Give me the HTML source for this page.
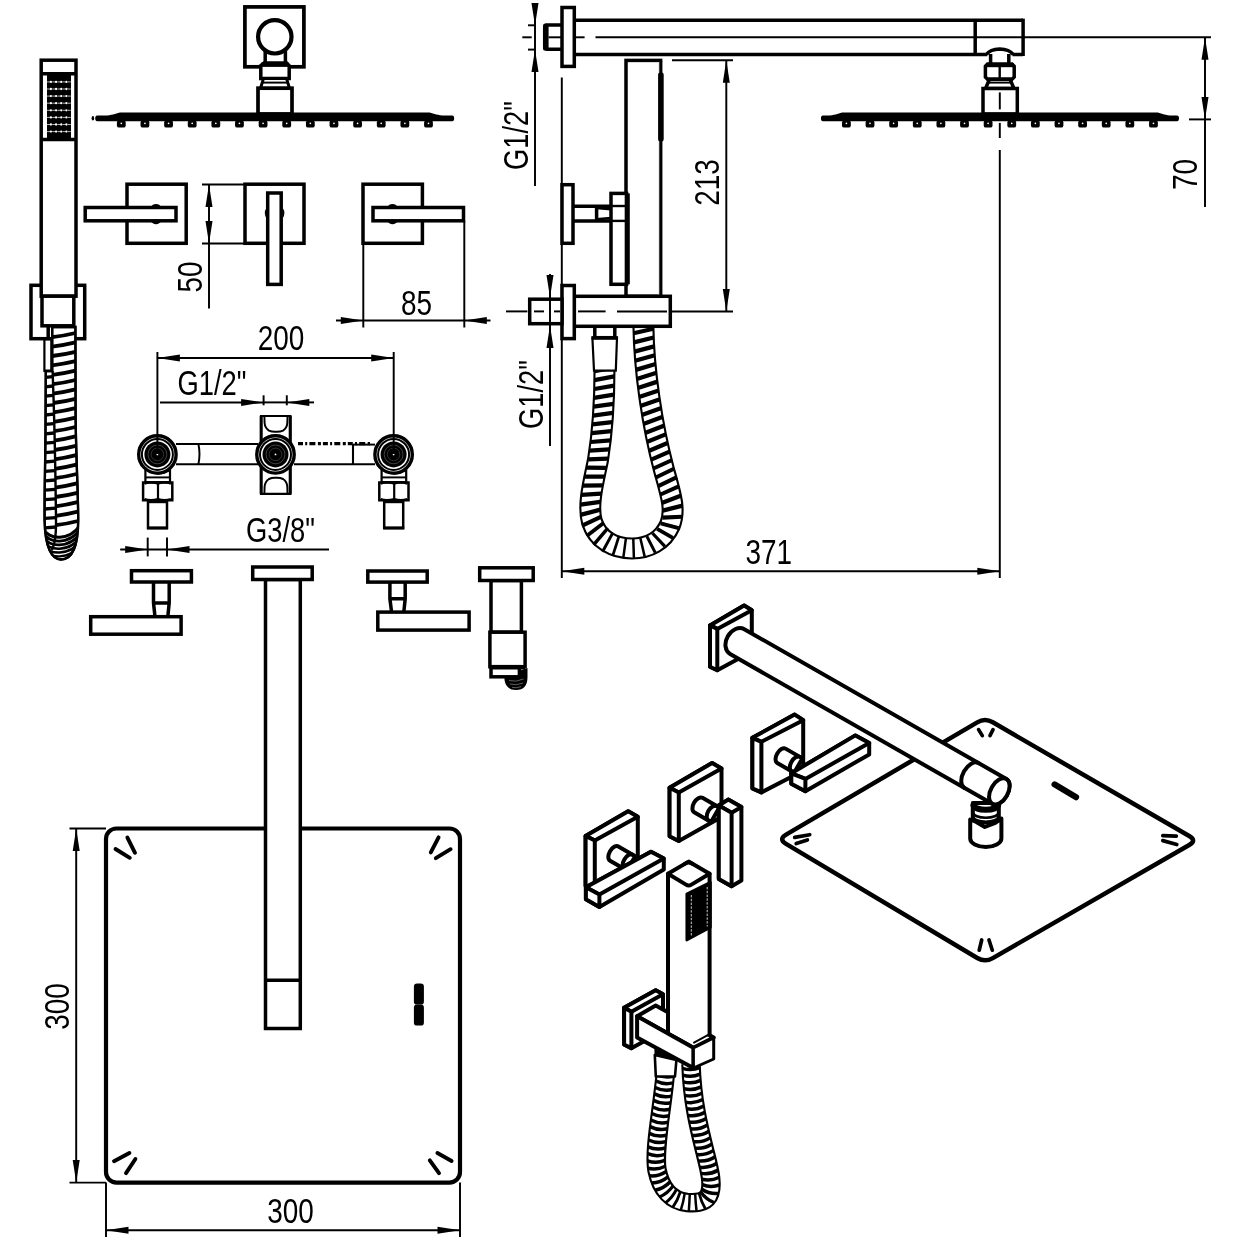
<!DOCTYPE html>
<html lang="en">
<head>
<meta charset="utf-8">
<title>Shower set technical drawing</title>
<style>
html,body{margin:0;padding:0;background:#fff}
body{width:1242px;height:1242px;overflow:hidden}
svg{display:block;will-change:transform}
.k{fill:none;stroke:#000;stroke-width:3.5;stroke-linejoin:miter}
.kw{fill:#fff;stroke:#000;stroke-width:3.5;stroke-linejoin:miter}
.kr{fill:none;stroke:#000;stroke-width:4;stroke-linejoin:round;stroke-linecap:round}
.kwr{fill:#fff;stroke:#000;stroke-width:4;stroke-linejoin:round;stroke-linecap:round}
.m{fill:none;stroke:#000;stroke-width:2.4}
.mw{fill:#fff;stroke:#000;stroke-width:2.4}
.t{fill:none;stroke:#000;stroke-width:1.95}
.tw{fill:#fff;stroke:#000;stroke-width:1.95}
.b{fill:#000;stroke:none}
.w{fill:#fff;stroke:none}
.a{fill:#000;stroke:none}
text{font-family:"Liberation Sans","DejaVu Sans",sans-serif;fill:#000}
</style>
</head>
<body>
<svg width="1242" height="1242" viewBox="0 0 1242 1242">
<rect class="w" x="0" y="0" width="1242" height="1242"/>
<!-- front view: hand shower -->
<rect class="kw" x="31" y="285.3" width="53.7" height="53.4"/>
<line class="k" x1="48.2" y1="326" x2="48.2" y2="339"/>
<rect class="tw" x="44.4" y="339.5" width="6.9" height="31.5" style="stroke-width:2.2"/>
<path class="tw" d="M45.8 371 L45.5 430 C45.2 470 44.4 490 44.6 520 C45 548 52 559.5 61 559.5 C71 559.5 78.2 548 78.2 520 C78.2 490 75.6 450 75.6 410 L75.4 327 L52.2 327 L52.2 371 Z" style="stroke-width:2.3"/>
<path class="t" d="M52.6 371 C54.5 420 55.5 470 56 520 C56.2 535 55 545 51.5 550" style="stroke-width:2.4"/>
<path class="t" style="stroke-width:3.8" d="M52.2 337.2 Q63.85 335.8 75.5 333"/>
<path class="t" style="stroke-width:3.8" d="M52.2 346.6 Q63.85 345.2 75.5 342.4"/>
<path class="t" style="stroke-width:3.8" d="M52.2 356 Q63.85 354.6 75.5 351.8"/>
<path class="t" style="stroke-width:3.8" d="M52.2 365.4 Q63.85 364 75.5 361.2"/>
<path class="t" style="stroke-width:3.8" d="M52.64 374.8 Q64.07 373.4 75.5 370.6"/>
<path class="t" style="stroke-width:3.3" d="M45.4 377.4 L52.64 376.6"/>
<path class="t" style="stroke-width:3.8" d="M52.84 384.2 Q64.17 382.8 75.5 380"/>
<path class="t" style="stroke-width:3.3" d="M45.4 386.8 L52.84 386"/>
<path class="t" style="stroke-width:3.8" d="M53.05 393.6 Q64.27 392.2 75.5 389.4"/>
<path class="t" style="stroke-width:3.3" d="M45.4 396.2 L53.05 395.4"/>
<path class="t" style="stroke-width:3.8" d="M53.26 403 Q64.38 401.6 75.5 398.8"/>
<path class="t" style="stroke-width:3.3" d="M45.4 405.6 L53.26 404.8"/>
<path class="t" style="stroke-width:3.8" d="M53.46 412.4 Q64.48 411 75.5 408.2"/>
<path class="t" style="stroke-width:3.3" d="M45.4 415 L53.46 414.2"/>
<path class="t" style="stroke-width:3.8" d="M53.67 421.8 Q64.58 420.4 75.5 417.6"/>
<path class="t" style="stroke-width:3.3" d="M45.4 424.4 L53.67 423.6"/>
<path class="t" style="stroke-width:3.8" d="M53.88 431.2 Q64.69 429.8 75.5 427"/>
<path class="t" style="stroke-width:3.3" d="M45.4 433.8 L53.88 433"/>
<path class="t" style="stroke-width:3.8" d="M54.08 440.6 Q64.79 439.2 75.5 436.4"/>
<path class="t" style="stroke-width:3.3" d="M45.33 443.2 L54.08 442.4"/>
<path class="t" style="stroke-width:3.8" d="M54.29 450 Q65.02 448.6 75.75 445.8"/>
<path class="t" style="stroke-width:3.3" d="M45.26 452.6 L54.29 451.8"/>
<path class="t" style="stroke-width:3.8" d="M54.5 459.4 Q65.27 458 76.05 455.2"/>
<path class="t" style="stroke-width:3.3" d="M45.18 462 L54.5 461.2"/>
<path class="t" style="stroke-width:3.8" d="M54.7 468.8 Q65.53 467.4 76.35 464.6"/>
<path class="t" style="stroke-width:3.3" d="M45.11 471.4 L54.7 470.6"/>
<path class="t" style="stroke-width:3.8" d="M54.91 478.2 Q65.78 476.8 76.65 474"/>
<path class="t" style="stroke-width:3.3" d="M45.03 480.8 L54.91 480"/>
<path class="t" style="stroke-width:3.8" d="M55.12 487.6 Q66.03 486.2 76.95 483.4"/>
<path class="t" style="stroke-width:3.3" d="M44.96 490.2 L55.12 489.4"/>
<path class="t" style="stroke-width:3.8" d="M55.32 497 Q66.29 495.6 77.25 492.8"/>
<path class="t" style="stroke-width:3.3" d="M44.88 499.6 L55.32 498.8"/>
<path class="t" style="stroke-width:3.8" d="M55.53 506.4 Q66.54 505 77.55 502.2"/>
<path class="t" style="stroke-width:3.3" d="M44.81 509 L55.53 508.2"/>
<path class="t" style="stroke-width:3.8" d="M55.74 515.8 Q66.8 514.4 77.86 511.6"/>
<path class="t" style="stroke-width:3.3" d="M44.73 518.4 L55.74 517.6"/>
<path class="t" style="stroke-width:3.8" d="M55.94 525.2 Q66.97 523.8 78 521"/>
<path class="t" style="stroke-width:3.3" d="M44.66 527.8 L55.94 527"/>
<clipPath id="lh"><path d="M45.8 371 L45.5 430 C45.2 470 44.4 490 44.6 520 C45 548 52 559.5 61 559.5 C71 559.5 78.2 548 78.2 520 C78.2 490 75.6 450 75.6 410 L75.4 327 L52.2 327 L52.2 371 Z"/></clipPath>
<g clip-path="url(#lh)">
<path class="t" style="stroke-width:3" d="M43 528 C48 540.5 70 541.5 81 524"/>
<path class="t" style="stroke-width:2.88" d="M43 532.2 C48 544.2 70 545.2 81 528.2"/>
<path class="t" style="stroke-width:2.76" d="M43 536.4 C48 547.9 70 548.9 81 532.4"/>
<path class="t" style="stroke-width:2.64" d="M43 540.6 C48 551.6 70 552.6 81 536.6"/>
<path class="t" style="stroke-width:2.52" d="M43 544.8 C48 555.3 70 556.3 81 540.8"/>
<path class="t" style="stroke-width:2.4" d="M43 549 C48 559 70 560 81 545"/>
<path class="t" style="stroke-width:2.28" d="M43 553.2 C48 562.7 70 563.7 81 549.2"/>
</g>
<path class="t" d="M45.8 371 L45.5 430 C45.2 470 44.4 490 44.6 520 C45 548 52 559.5 61 559.5 C71 559.5 78.2 548 78.2 520 C78.2 490 75.6 450 75.6 410 L75.4 327 L52.2 327 L52.2 371 Z" style="stroke-width:2.3"/>
<rect class="kw" x="41.2" y="60.2" width="34.8" height="236"/>
<line class="k" x1="41.2" y1="73.8" x2="76" y2="73.8"/>
<line class="k" x1="41.2" y1="139.4" x2="76" y2="139.4"/>
<rect class="b" x="47" y="73.8" width="24" height="65.6"/>
<line class="t" x1="47" y1="81.9" x2="71" y2="81.9" style="stroke:#fff;stroke-width:0.7;stroke-dasharray:3 2.2"/>
<circle class="w" cx="50.9" cy="81.9" r="1.15"/>
<circle class="w" cx="56.07" cy="81.9" r="1.15"/>
<circle class="w" cx="61.24" cy="81.9" r="1.15"/>
<circle class="w" cx="66.41" cy="81.9" r="1.15"/>
<line class="t" x1="47" y1="89" x2="71" y2="89" style="stroke:#fff;stroke-width:0.7;stroke-dasharray:3 2.2"/>
<circle class="w" cx="50.9" cy="89" r="1.15"/>
<circle class="w" cx="56.07" cy="89" r="1.15"/>
<circle class="w" cx="61.24" cy="89" r="1.15"/>
<circle class="w" cx="66.41" cy="89" r="1.15"/>
<line class="t" x1="47" y1="96.1" x2="71" y2="96.1" style="stroke:#fff;stroke-width:0.7;stroke-dasharray:3 2.2"/>
<circle class="w" cx="50.9" cy="96.1" r="1.15"/>
<circle class="w" cx="56.07" cy="96.1" r="1.15"/>
<circle class="w" cx="61.24" cy="96.1" r="1.15"/>
<circle class="w" cx="66.41" cy="96.1" r="1.15"/>
<line class="t" x1="47" y1="103.2" x2="71" y2="103.2" style="stroke:#fff;stroke-width:0.7;stroke-dasharray:3 2.2"/>
<circle class="w" cx="50.9" cy="103.2" r="1.15"/>
<circle class="w" cx="56.07" cy="103.2" r="1.15"/>
<circle class="w" cx="61.24" cy="103.2" r="1.15"/>
<circle class="w" cx="66.41" cy="103.2" r="1.15"/>
<line class="t" x1="47" y1="110.3" x2="71" y2="110.3" style="stroke:#fff;stroke-width:0.7;stroke-dasharray:3 2.2"/>
<circle class="w" cx="50.9" cy="110.3" r="1.15"/>
<circle class="w" cx="56.07" cy="110.3" r="1.15"/>
<circle class="w" cx="61.24" cy="110.3" r="1.15"/>
<circle class="w" cx="66.41" cy="110.3" r="1.15"/>
<line class="t" x1="47" y1="117.4" x2="71" y2="117.4" style="stroke:#fff;stroke-width:0.7;stroke-dasharray:3 2.2"/>
<circle class="w" cx="50.9" cy="117.4" r="1.15"/>
<circle class="w" cx="56.07" cy="117.4" r="1.15"/>
<circle class="w" cx="61.24" cy="117.4" r="1.15"/>
<circle class="w" cx="66.41" cy="117.4" r="1.15"/>
<line class="t" x1="47" y1="124.5" x2="71" y2="124.5" style="stroke:#fff;stroke-width:0.7;stroke-dasharray:3 2.2"/>
<circle class="w" cx="50.9" cy="124.5" r="1.15"/>
<circle class="w" cx="56.07" cy="124.5" r="1.15"/>
<circle class="w" cx="61.24" cy="124.5" r="1.15"/>
<circle class="w" cx="66.41" cy="124.5" r="1.15"/>
<line class="t" x1="47" y1="131.6" x2="71" y2="131.6" style="stroke:#fff;stroke-width:0.7;stroke-dasharray:3 2.2"/>
<circle class="w" cx="50.9" cy="131.6" r="1.15"/>
<circle class="w" cx="56.07" cy="131.6" r="1.15"/>
<circle class="w" cx="61.24" cy="131.6" r="1.15"/>
<circle class="w" cx="66.41" cy="131.6" r="1.15"/>
<rect class="kw" x="42" y="296.2" width="31.8" height="29.6"/>
<!-- front view: shower head -->
<rect class="k" x="244.9" y="6.9" width="59" height="59.9" style="stroke-width:3.7"/>
<path class="k" d="M265.2 50 L265.2 63 M285.4 50 L285.4 63"/>
<circle class="kw" cx="274.8" cy="36.8" r="16.7" style="stroke-width:4.2"/>
<path class="kw" d="M264 63 L286.6 63 L289.2 65.6 L289.2 78.4 L260.8 78.4 L260.8 65.6 Z"/>
<line class="k" x1="261.6" y1="64.6" x2="288.4" y2="64.6" style="stroke-width:4.6"/>
<path class="kw" d="M263.5 78.4 L286.5 78.4 L289.5 88.2 L260.5 88.2 Z" style="stroke-width:3"/>
<line class="t" x1="262.5" y1="82.6" x2="287.5" y2="82.6"/>
<rect class="kw" x="258" y="88.2" width="34" height="25.8" style="stroke-width:3.7"/>
<path class="b" d="M97.2 115.4 L107.2 115.4 C113.2 115.4 116.7 112.6 121.7 112.6 L427.7 112.6 C432.7 112.6 436.2 115.4 442.2 115.4 L452.2 115.4 Q454.2 115.4 454.2 118.3 Q454.2 121.2 452.2 121.2 L97.2 121.2 Q95.2 121.2 95.2 118.3 Q95.2 115.4 97.2 115.4 Z"/>
<ellipse class="b" cx="92.9" cy="118.3" rx="1.3" ry="2.3"/>
<rect class="b" x="116.9" y="120.2" width="8.8" height="7.4" rx="2.2" ry="2.2"/>
<circle class="w" cx="121.3" cy="123.3" r="0.85"/>
<rect class="b" x="140.53" y="120.2" width="8.8" height="7.4" rx="2.2" ry="2.2"/>
<circle class="w" cx="144.93" cy="123.3" r="0.85"/>
<rect class="b" x="164.16" y="120.2" width="8.8" height="7.4" rx="2.2" ry="2.2"/>
<circle class="w" cx="168.56" cy="123.3" r="0.85"/>
<rect class="b" x="187.79" y="120.2" width="8.8" height="7.4" rx="2.2" ry="2.2"/>
<circle class="w" cx="192.19" cy="123.3" r="0.85"/>
<rect class="b" x="211.42" y="120.2" width="8.8" height="7.4" rx="2.2" ry="2.2"/>
<circle class="w" cx="215.82" cy="123.3" r="0.85"/>
<rect class="b" x="235.05" y="120.2" width="8.8" height="7.4" rx="2.2" ry="2.2"/>
<circle class="w" cx="239.45" cy="123.3" r="0.85"/>
<rect class="b" x="258.68" y="120.2" width="8.8" height="7.4" rx="2.2" ry="2.2"/>
<circle class="w" cx="263.08" cy="123.3" r="0.85"/>
<rect class="b" x="282.31" y="120.2" width="8.8" height="7.4" rx="2.2" ry="2.2"/>
<circle class="w" cx="286.71" cy="123.3" r="0.85"/>
<rect class="b" x="305.94" y="120.2" width="8.8" height="7.4" rx="2.2" ry="2.2"/>
<circle class="w" cx="310.34" cy="123.3" r="0.85"/>
<rect class="b" x="329.57" y="120.2" width="8.8" height="7.4" rx="2.2" ry="2.2"/>
<circle class="w" cx="333.97" cy="123.3" r="0.85"/>
<rect class="b" x="353.2" y="120.2" width="8.8" height="7.4" rx="2.2" ry="2.2"/>
<circle class="w" cx="357.6" cy="123.3" r="0.85"/>
<rect class="b" x="376.83" y="120.2" width="8.8" height="7.4" rx="2.2" ry="2.2"/>
<circle class="w" cx="381.23" cy="123.3" r="0.85"/>
<rect class="b" x="400.46" y="120.2" width="8.8" height="7.4" rx="2.2" ry="2.2"/>
<circle class="w" cx="404.86" cy="123.3" r="0.85"/>
<rect class="b" x="424.09" y="120.2" width="8.8" height="7.4" rx="2.2" ry="2.2"/>
<circle class="w" cx="428.49" cy="123.3" r="0.85"/>
<!-- handles -->
<rect class="k" x="127" y="184.2" width="59.2" height="59.1"/>
<rect class="kw" x="85.2" y="207.5" width="90.8" height="13.3"/>
<path class="b" d="M150.5 207.5 Q152.5 204.1 156 204.1 Q159.5 204.1 161.5 207.5 Z"/>
<path class="b" d="M150.5 220.8 Q152.5 224.2 156 224.2 Q159.5 224.2 161.5 220.8 Z"/>
<rect class="k" x="245" y="184.2" width="59" height="59.1"/>
<rect class="kw" x="267.7" y="193" width="13.5" height="91.4"/>
<path class="b" d="M266.4 208 Q263.2 213 266.4 218 Z"/>
<path class="b" d="M282.8 208 Q286 213 282.8 218 Z"/>
<rect class="k" x="363" y="184.2" width="59.4" height="59.1"/>
<rect class="kw" x="373" y="207.5" width="90.5" height="13.3"/>
<path class="b" d="M387 207.5 Q389 204.1 392.5 204.1 Q396 204.1 398 207.5 Z"/>
<path class="b" d="M387 220.8 Q389 224.2 392.5 224.2 Q396 224.2 398 220.8 Z"/>
<!-- dimension 50 -->
<line class="t" x1="202" y1="184.4" x2="245" y2="184.4"/>
<line class="t" x1="202" y1="243.5" x2="245" y2="243.5"/>
<line class="t" x1="209" y1="184.4" x2="209" y2="308.5"/>
<polygon class="a" points="209,184.4 212.5,206.9 205.5,206.9"/>
<polygon class="a" points="209,243.5 205.5,221 212.5,221"/>
<text transform="translate(201.9 277) rotate(-90) scale(0.776 1)" text-anchor="middle" font-size="36">50</text>
<!-- dimension 85 -->
<line class="t" x1="363.3" y1="243.3" x2="363.3" y2="327.5"/>
<line class="t" x1="464.3" y1="220.8" x2="464.3" y2="327.5"/>
<line class="t" x1="336" y1="320.5" x2="490.5" y2="320.5"/>
<polygon class="a" points="363.3,320.5 340.8,324 340.8,317"/>
<polygon class="a" points="464.3,320.5 486.8,317 486.8,324"/>
<text transform="translate(416.5 315) scale(0.776 1)" text-anchor="middle" font-size="36">85</text>
<!-- side view -->
<line class="t" x1="561.8" y1="77.5" x2="561.8" y2="578"/>
<line class="k" x1="574.3" y1="20.3" x2="1023.1" y2="20.3"/>
<line class="k" x1="574.3" y1="54.4" x2="1023.1" y2="54.4"/>
<line class="k" x1="975.2" y1="20.3" x2="975.2" y2="54.4"/>
<line class="k" x1="1023.1" y1="18.7" x2="1023.1" y2="56"/>
<path class="kw" d="M562 24.9 L548 24.9 Q544.7 24.9 544.7 28 L544.7 46.2 Q544.7 49.3 548 49.3 L562 49.3"/>
<rect class="b" x="543" y="23.6" width="5.6" height="27" rx="2.2" ry="2.2"/>
<line class="t" x1="522.3" y1="37.3" x2="531.7" y2="37.3"/>
<line class="t" x1="548.6" y1="37.3" x2="561" y2="37.3"/>
<line class="t" x1="575" y1="37.3" x2="584.6" y2="37.3"/>
<line class="t" x1="595.5" y1="37.3" x2="1211" y2="37.3"/>
<line class="t" x1="528" y1="25.3" x2="534" y2="25.3"/>
<line class="t" x1="528" y1="49.6" x2="534" y2="49.6"/>
<rect class="kw" x="562" y="7.5" width="12.3" height="58.9"/>
<line class="t" x1="535" y1="4" x2="535" y2="186"/>
<polygon class="a" points="535,25.6 531.5,3.1 538.5,3.1"/>
<polygon class="a" points="535,49.4 538.5,71.9 531.5,71.9"/>
<text transform="translate(528 135.5) rotate(-90) scale(0.764 1)" text-anchor="middle" font-size="35.8">G1/2"</text>
<path class="w" d="M987.2 57 L987.2 54.6 Q990 49.4 999.7 49.1 Q1009.5 49.4 1012.4 54.6 L1012.4 57 Z"/>
<path class="k" d="M986.4 54.6 Q990 49.4 999.7 49.1 Q1009.5 49.4 1013.2 54.6"/>
<rect class="w" x="990.6" y="54.6" width="18.2" height="9.4"/>
<path class="k" d="M990.6 54 L990.6 64 M1008.8 54 L1008.8 64"/>
<path class="kw" d="M987.5 64 L1012 64 L1014.2 66.2 L1014.2 77 L1012 79.2 L987.5 79.2 L985.4 77 L985.4 66.2 Z"/>
<line class="k" x1="986" y1="65.2" x2="1013.6" y2="65.2" style="stroke-width:4"/>
<line class="m" x1="999.7" y1="66" x2="999.7" y2="78"/>
<path class="kw" d="M989.5 79.2 L1010 79.2 L1014 88.5 L985.5 88.5 Z"/>
<line class="t" x1="988.5" y1="82.6" x2="1011" y2="82.6"/>
<rect class="kw" x="983" y="88.5" width="34.3" height="25.5"/>
<path class="b" d="M822.9 115.4 L829.9 115.4 C835.9 115.4 838.9 112.6 843.9 112.6 L1156 112.6 C1161 112.6 1164 115.4 1170 115.4 L1177 115.4 Q1179 115.4 1179 118.3 Q1179 121.2 1177 121.2 L822.9 121.2 Q820.9 121.2 820.9 118.3 Q820.9 115.4 822.9 115.4 Z"/>
<rect class="b" x="842" y="120.2" width="8.8" height="7.4" rx="2.2" ry="2.2"/>
<circle class="w" cx="846.4" cy="123.3" r="0.85"/>
<rect class="b" x="865.62" y="120.2" width="8.8" height="7.4" rx="2.2" ry="2.2"/>
<circle class="w" cx="870.02" cy="123.3" r="0.85"/>
<rect class="b" x="889.24" y="120.2" width="8.8" height="7.4" rx="2.2" ry="2.2"/>
<circle class="w" cx="893.64" cy="123.3" r="0.85"/>
<rect class="b" x="912.86" y="120.2" width="8.8" height="7.4" rx="2.2" ry="2.2"/>
<circle class="w" cx="917.26" cy="123.3" r="0.85"/>
<rect class="b" x="936.48" y="120.2" width="8.8" height="7.4" rx="2.2" ry="2.2"/>
<circle class="w" cx="940.88" cy="123.3" r="0.85"/>
<rect class="b" x="960.1" y="120.2" width="8.8" height="7.4" rx="2.2" ry="2.2"/>
<circle class="w" cx="964.5" cy="123.3" r="0.85"/>
<rect class="b" x="983.72" y="120.2" width="8.8" height="7.4" rx="2.2" ry="2.2"/>
<circle class="w" cx="988.12" cy="123.3" r="0.85"/>
<rect class="b" x="1007.34" y="120.2" width="8.8" height="7.4" rx="2.2" ry="2.2"/>
<circle class="w" cx="1011.74" cy="123.3" r="0.85"/>
<rect class="b" x="1030.96" y="120.2" width="8.8" height="7.4" rx="2.2" ry="2.2"/>
<circle class="w" cx="1035.36" cy="123.3" r="0.85"/>
<rect class="b" x="1054.58" y="120.2" width="8.8" height="7.4" rx="2.2" ry="2.2"/>
<circle class="w" cx="1058.98" cy="123.3" r="0.85"/>
<rect class="b" x="1078.2" y="120.2" width="8.8" height="7.4" rx="2.2" ry="2.2"/>
<circle class="w" cx="1082.6" cy="123.3" r="0.85"/>
<rect class="b" x="1101.82" y="120.2" width="8.8" height="7.4" rx="2.2" ry="2.2"/>
<circle class="w" cx="1106.22" cy="123.3" r="0.85"/>
<rect class="b" x="1125.44" y="120.2" width="8.8" height="7.4" rx="2.2" ry="2.2"/>
<circle class="w" cx="1129.84" cy="123.3" r="0.85"/>
<rect class="b" x="1149.06" y="120.2" width="8.8" height="7.4" rx="2.2" ry="2.2"/>
<circle class="w" cx="1153.46" cy="123.3" r="0.85"/>
<line class="t" x1="999.8" y1="92.4" x2="999.8" y2="109.4"/>
<line class="t" x1="999.8" y1="122.9" x2="999.8" y2="138"/>
<line class="t" x1="999.8" y1="150" x2="999.8" y2="578"/>
<line class="t" x1="1189" y1="119.4" x2="1211" y2="119.4"/>
<line class="t" x1="1205" y1="37.3" x2="1205" y2="207"/>
<polygon class="a" points="1205,37.3 1208.5,59.8 1201.5,59.8"/>
<polygon class="a" points="1205,119.4 1201.5,96.9 1208.5,96.9"/>
<text transform="translate(1197.2 174.5) rotate(-90) scale(0.776 1)" text-anchor="middle" font-size="36">70</text>
<path d="M643.4 326 C644 370 652 425 664 470 C671 495 676 510 670 525 C663 541 648 548.5 632 548.5 C614 548.5 598 540 592 522 C587 505 594 480 598 460 C602 435 604.5 400 604.5 369" fill="none" stroke="#000" stroke-width="22"/>
<path d="M643.4 326 C644 370 652 425 664 470 C671 495 676 510 670 525 C663 541 648 548.5 632 548.5 C614 548.5 598 540 592 522 C587 505 594 480 598 460 C602 435 604.5 400 604.5 369" fill="none" stroke="#fff" stroke-width="17.8"/>
<path d="M640.34 538.09 L644.69 556.64 M633.28 538.59 L633.91 558.36 M623.27 558.13 L625.98 537.87" fill="none" stroke="#000" stroke-width="2.5"/>
<path d="M612.67 556.01 L619.08 535.89" fill="none" stroke="#000" stroke-width="2.75"/>
<path d="M646.85 536.3 L655.21 552.69 M602.53 551.67 L612.94 532.63" fill="none" stroke="#000" stroke-width="3"/>
<path d="M652.52 533.24 L664.86 546.39" fill="none" stroke="#000" stroke-width="3.25"/>
<path d="M593.59 544.91 L607.85 528.18" fill="none" stroke="#000" stroke-width="3.5"/>
<path d="M657.16 528.9 L672.87 537.97 M586.69 536.1 L603.92 522.68" fill="none" stroke="#000" stroke-width="3.75"/>
<path d="M652.9 468.78 L672.18 460.01 M655.29 477.7 L674.44 468.47 M657.71 486.33 L676.89 477.17 M659.96 494.78 L679.27 486.11 M660.63 523.39 L678.7 528.12 M582.15 525.63 L601.37 516.65" fill="none" stroke="#000" stroke-width="4"/>
<path d="M633.55 333.25 L653.45 328.75 M633.88 342.43 L653.76 337.55 M634.38 351.6 L654.24 346.36 M635.04 360.73 L654.87 355.18 M635.84 369.85 L655.65 363.99 M636.77 378.94 L656.55 372.81 M637.83 388.01 L657.58 381.61 M639.02 397.07 L658.73 390.41 M640.33 406.1 L660 399.19 M641.75 415.12 L661.39 407.95 M643.3 424.11 L662.89 416.7 M644.96 433.09 L664.5 425.42 M646.75 442.04 L666.24 434.12 M648.66 450.98 L668.09 442.79 M650.71 459.89 L670.07 451.42 M661.74 502.97 L681.33 495.51 M662.68 510.65 L682.55 505.68 M662.35 517.53 L682 516.75 M580.46 514.85 L600.32 509.67 M580.48 504.66 L600.35 501.87 M581.45 494.95 L601.17 493.68 M582.96 485.6 L602.53 485.26 M584.75 476.51 L604.23 476.69 M586.64 467.66 L606.1 467.94 M588.33 459.4 L607.99 458.55 M589.58 450.74 L609.31 449.4 M590.64 442 L610.42 440.27 M591.56 433.22 L611.37 431.15 M592.34 424.4 L612.17 422.04 M593 415.56 L612.85 412.93 M593.54 406.71 L613.41 403.82 M593.97 397.84 L613.85 394.7 M594.28 388.98 L614.17 385.58 M594.48 380.12 L614.38 376.44 M594.55 371.26 L614.45 367.3" fill="none" stroke="#000" stroke-width="4.25"/>
<rect class="kw" x="594.8" y="326" width="20" height="11.7"/>
<path class="mw" d="M592.4 337.7 L617 337.7 L615.8 370.6 L594 370.6 Z" style="stroke-width:2.2"/>
<line class="k" x1="591.6" y1="338" x2="617.8" y2="338" style="stroke-width:3.6"/>
<rect class="kw" x="626" y="60.4" width="34.6" height="235.9"/>
<line class="k" x1="660.6" y1="62" x2="660.6" y2="295" style="stroke:#fff;stroke-width:4.2"/>
<line class="k" x1="660.8" y1="61" x2="660.8" y2="296" style="stroke-width:3.1"/>
<line class="k" x1="660.9" y1="75" x2="660.9" y2="139" style="stroke-width:5.6;stroke-linecap:round"/>
<rect class="kw" x="562" y="184.7" width="11" height="58.6"/>
<line class="k" x1="573" y1="206.2" x2="611" y2="206.2"/>
<line class="k" x1="573" y1="220.9" x2="611" y2="220.9"/>
<path class="k" d="M596.6 206.2 L596.6 220.9"/>
<path class="m" d="M596.6 208 L611 209.3 M596.6 219.2 L611 218"/>
<rect class="kw" x="611" y="193.4" width="15.6" height="90.9"/>
<line class="m" x1="611" y1="206" x2="626" y2="206"/>
<line class="m" x1="611" y1="220.9" x2="626" y2="220.9"/>
<line class="k" x1="627.3" y1="193.4" x2="627.3" y2="284.3" style="stroke-width:5"/>
<rect class="kw" x="574.3" y="296.3" width="96" height="30"/>
<rect class="kw" x="562" y="285.5" width="12.3" height="53.1"/>
<rect class="kw" x="529.7" y="299.2" width="32.3" height="24.5"/>
<line class="t" x1="506" y1="311.4" x2="527.4" y2="311.4"/>
<line class="t" x1="534" y1="311.4" x2="544" y2="311.4"/>
<line class="t" x1="554" y1="311.4" x2="560" y2="311.4"/>
<line class="t" x1="578" y1="311.4" x2="605.6" y2="311.4"/>
<line class="t" x1="617" y1="311.4" x2="667" y2="311.4"/>
<line class="t" x1="672" y1="311.4" x2="733" y2="311.4"/>
<line class="t" x1="550" y1="274" x2="550" y2="446"/>
<polygon class="a" points="550,297.6 546.5,275.1 553.5,275.1"/>
<polygon class="a" points="550,325.6 553.5,348.1 546.5,348.1"/>
<text transform="translate(543 394.5) rotate(-90) scale(0.764 1)" text-anchor="middle" font-size="35.8">G1/2"</text>
<line class="t" x1="672" y1="60.2" x2="733" y2="60.2"/>
<line class="t" x1="726.3" y1="60.2" x2="726.3" y2="311.4"/>
<polygon class="a" points="726.3,60.2 729.8,82.7 722.8,82.7"/>
<polygon class="a" points="726.3,311.4 722.8,288.9 729.8,288.9"/>
<text transform="translate(719.4 182.5) rotate(-90) scale(0.776 1)" text-anchor="middle" font-size="36">213</text>
<line class="t" x1="561.8" y1="571.2" x2="999.8" y2="571.2"/>
<polygon class="a" points="561.8,571.2 584.3,567.7 584.3,574.7"/>
<polygon class="a" points="999.8,571.2 977.3,574.7 977.3,567.7"/>
<text transform="translate(768.7 563.5) scale(0.776 1)" text-anchor="middle" font-size="36">371</text>
<!-- valve body -->
<line class="m" x1="176" y1="444" x2="258" y2="444" style="stroke-width:2.1"/>
<line class="m" x1="176" y1="464.3" x2="258" y2="464.3" style="stroke-width:2.1"/>
<path class="t" d="M198.4 444 Q200.6 454 198.4 464.3"/>
<line class="m" x1="294" y1="464.3" x2="375" y2="464.3" style="stroke-width:2.1"/>
<line class="m" x1="353" y1="444" x2="353" y2="464.3" style="stroke-width:2.1"/>
<line class="t" x1="353" y1="444.6" x2="375" y2="444.6"/>
<line class="k" x1="298" y1="443.6" x2="370" y2="443.6" style="stroke-width:3.4;stroke-dasharray:5 2.2 2 2.2 6 2.5 3 2"/>
<path class="kw" d="M261 416 L290.4 416 L290.4 493.8 L261 493.8 Z" style="stroke-width:2.2"/>
<line class="k" x1="261.2" y1="416" x2="261.2" y2="493.8" style="stroke-width:3"/>
<line class="k" x1="290.2" y1="416" x2="290.2" y2="493.8" style="stroke-width:3"/>
<path class="t" d="M264.4 417 L264.6 423 Q265 428 269 430.6 Q271.5 431.8 275 431.8 L277 431.8 Q280.5 431.8 283 430.6 Q287 428 287.3 423 L287.5 417"/>
<path class="t" d="M264.4 493 L264.6 486.6 Q265 481.6 269 479 Q271.5 477.8 275 477.8 L277 477.8 Q280.5 477.8 283 479 Q287 481.6 287.3 486.6 L287.5 493"/>
<path class="mw" d="M145.4 468 L145.4 482 L170 482 L170 466" style="stroke-width:2.2"/>
<path class="t" d="M145.4 477.4 L170 477.4"/>
<path class="t" d="M149.4 471.5 Q159.4 476.5 169.4 470.5"/>
<path class="kw" d="M143.1 482.4 L172.3 482.4 L172.3 500.2 L143.1 500.2 Z" style="stroke-width:2.5"/>
<path class="t" d="M144.6 484 Q150.25 481.6 158 484 Q164.85 481.6 170.8 484 M144.6 498.8 Q150.25 501 158 498.8 Q164.85 501 170.8 498.8" style="stroke-width:1.6"/>
<line class="m" x1="158" y1="482.4" x2="158" y2="500.2" style="stroke-width:2.2"/>
<rect class="kw" x="148" y="500.4" width="19" height="27.6" style="stroke-width:2.5"/>
<line class="k" x1="147.4" y1="501.6" x2="167.4" y2="501.6" style="stroke-width:3.2"/>
<line class="k" x1="147" y1="528" x2="168" y2="528" style="stroke-width:3"/>
<path class="mw" d="M381.6 468 L381.6 482 L406.2 482 L406.2 466" style="stroke-width:2.2"/>
<path class="t" d="M381.6 477.4 L406.2 477.4"/>
<path class="t" d="M385.6 471.5 Q395.6 476.5 405.6 470.5"/>
<path class="kw" d="M379.3 482.4 L408.5 482.4 L408.5 500.2 L379.3 500.2 Z" style="stroke-width:2.5"/>
<path class="t" d="M380.8 484 Q386.45 481.6 394.2 484 Q401.05 481.6 407 484 M380.8 498.8 Q386.45 501 394.2 498.8 Q401.05 501 407 498.8" style="stroke-width:1.6"/>
<line class="m" x1="394.2" y1="482.4" x2="394.2" y2="500.2" style="stroke-width:2.2"/>
<rect class="kw" x="384.2" y="500.4" width="19" height="27.6" style="stroke-width:2.5"/>
<line class="k" x1="383.6" y1="501.6" x2="403.6" y2="501.6" style="stroke-width:3.2"/>
<line class="k" x1="383.2" y1="528" x2="404.2" y2="528" style="stroke-width:3"/>
<circle class="kw" cx="157.4" cy="454.4" r="18.7" style="stroke-width:3.4"/>
<circle class="t" cx="157.4" cy="454.4" r="15.5" style="stroke-width:2"/>
<circle class="b" cx="157.4" cy="454.4" r="13"/>
<circle class="t" cx="157.4" cy="454.4" r="9.4" style="stroke:#4a4a4a;stroke-width:0.9"/>
<circle class="t" cx="157.4" cy="454.4" r="6.3" style="stroke:#3c3c3c;stroke-width:0.8"/>
<circle class="w" cx="157.4" cy="454.4" r="0.9"/>
<circle class="kw" cx="275.5" cy="454.4" r="18.7" style="stroke-width:3.4"/>
<circle class="t" cx="275.5" cy="454.4" r="15.5" style="stroke-width:2"/>
<circle class="b" cx="275.5" cy="454.4" r="13"/>
<circle class="t" cx="275.5" cy="454.4" r="9.4" style="stroke:#4a4a4a;stroke-width:0.9"/>
<circle class="t" cx="275.5" cy="454.4" r="6.3" style="stroke:#3c3c3c;stroke-width:0.8"/>
<circle class="w" cx="275.5" cy="454.4" r="0.9"/>
<circle class="kw" cx="393.6" cy="454.4" r="18.7" style="stroke-width:3.4"/>
<circle class="t" cx="393.6" cy="454.4" r="15.5" style="stroke-width:2"/>
<circle class="b" cx="393.6" cy="454.4" r="13"/>
<circle class="t" cx="393.6" cy="454.4" r="9.4" style="stroke:#4a4a4a;stroke-width:0.9"/>
<circle class="t" cx="393.6" cy="454.4" r="6.3" style="stroke:#3c3c3c;stroke-width:0.8"/>
<circle class="w" cx="393.6" cy="454.4" r="0.9"/>
<line class="t" x1="157.4" y1="352" x2="157.4" y2="454"/>
<line class="t" x1="393.7" y1="352" x2="393.7" y2="454"/>
<line class="t" x1="157.4" y1="358" x2="393.7" y2="358"/>
<polygon class="a" points="157.4,358 179.9,354.5 179.9,361.5"/>
<polygon class="a" points="393.7,358 371.2,361.5 371.2,354.5"/>
<text transform="translate(281 350.4) scale(0.776 1)" text-anchor="middle" font-size="36">200</text>
<line class="t" x1="160" y1="402.4" x2="263.6" y2="402.4"/>
<line class="t" x1="263.6" y1="402.4" x2="286.8" y2="402.4"/>
<line class="t" x1="286.8" y1="402.4" x2="314" y2="402.4"/>
<line class="t" x1="263.6" y1="395.3" x2="263.6" y2="405.3"/>
<line class="t" x1="286.8" y1="395.3" x2="286.8" y2="405.3"/>
<polygon class="a" points="263.6,402.4 241.1,405.9 241.1,398.9"/>
<polygon class="a" points="286.8,402.4 309.3,398.9 309.3,405.9"/>
<text transform="translate(212 394.6) scale(0.764 1)" text-anchor="middle" font-size="35.8">G1/2"</text>
<line class="t" x1="120.2" y1="549.4" x2="329" y2="549.4"/>
<line class="t" x1="147.7" y1="537.6" x2="147.7" y2="556.4"/>
<line class="t" x1="167" y1="537.6" x2="167" y2="556.4"/>
<polygon class="a" points="147.7,549.4 125.2,552.9 125.2,545.9"/>
<polygon class="a" points="167,549.4 189.5,545.9 189.5,552.9"/>
<text transform="translate(280.4 541.6) scale(0.764 1)" text-anchor="middle" font-size="35.8">G3/8"</text>
<!-- top views -->
<rect class="kw" x="131.5" y="570.7" width="59.9" height="11.3"/>
<path class="k" d="M153.5 582 L153.5 603 L155 616.7 M169.2 582 L169.2 603 L167.8 616.7 M153.5 603 L169.2 603"/>
<rect class="kw" x="90.7" y="616.7" width="90.4" height="17.5"/>
<rect class="kw" x="367.8" y="571" width="59.4" height="11.1"/>
<path class="k" d="M389.9 582.1 L389.9 598.8 L391.6 612.1 M405.2 582.1 L405.2 598.8 L403.8 612.1 M389.9 598.8 L405.2 598.8"/>
<rect class="kw" x="377.8" y="612.1" width="91.3" height="18"/>
<path class="b" d="M504.5 676 L504.5 680 Q506 690 516 690 Q527.5 690 527.5 677 L527.5 668 Z"/>
<path class="t" d="M509 680.5 Q516 682.5 523.5 679 M510 684 Q516 686 523 683 M512 687.3 Q516 688.6 521 686.6" style="stroke:#777;stroke-width:0.8"/>
<rect class="kw" x="491" y="580.5" width="30.4" height="51.7"/>
<rect class="kw" x="479.7" y="567.8" width="53.5" height="12.7"/>
<rect class="kw" x="489.9" y="632.2" width="35.2" height="34.5"/>
<rect class="kw" x="491" y="666.7" width="28.4" height="10.1"/>
<line class="k" x1="489.9" y1="667.4" x2="525.1" y2="667.4" style="stroke-width:4"/>
<!-- top view: shower plate -->
<rect class="k" style="stroke-width:4.2" x="106" y="828.5" width="354" height="354.1" rx="10.5" ry="10.5"/>
<path class="kr" style="stroke-width:3.9" d="M115.5 849 L129.8 857.8"/>
<path class="kr" style="stroke-width:3.9" d="M127.4 837.6 L135 852.8"/>
<path class="kr" style="stroke-width:3.9" d="M430.8 852.4 L438.6 837.4"/>
<path class="kr" style="stroke-width:3.9" d="M435.8 858.2 L450.6 849.2"/>
<path class="kr" style="stroke-width:3.9" d="M114 1161.2 L129.4 1153"/>
<path class="kr" style="stroke-width:3.9" d="M126 1173.2 L135.4 1159"/>
<path class="kr" style="stroke-width:3.9" d="M429.8 1160.4 L439 1173.2"/>
<path class="kr" style="stroke-width:3.9" d="M437.4 1153 L451.6 1161"/>
<rect class="b" x="413.9" y="983.4" width="10" height="21.2" rx="3.2" ry="3.2"/>
<rect class="b" x="413.9" y="1004.6" width="10" height="21" rx="3.2" ry="3.2"/>
<rect class="kw" x="265.5" y="579.5" width="34.8" height="449"/>
<line class="k" x1="265.5" y1="980.3" x2="300.3" y2="980.3"/>
<rect class="kw" x="252.7" y="567" width="59.5" height="12.5"/>
<line class="t" x1="69.5" y1="828.5" x2="106" y2="828.5"/>
<line class="t" x1="69.5" y1="1182.6" x2="106" y2="1182.6"/>
<line class="t" x1="76.2" y1="828.5" x2="76.2" y2="1182.6"/>
<polygon class="a" points="76.2,828.5 79.7,851 72.7,851"/>
<polygon class="a" points="76.2,1182.6 72.7,1160.1 79.7,1160.1"/>
<text transform="translate(69.2 1006.5) rotate(-90) scale(0.776 1)" text-anchor="middle" font-size="36">300</text>
<line class="t" x1="106" y1="1182.6" x2="106" y2="1237"/>
<line class="t" x1="460" y1="1182.6" x2="460" y2="1237"/>
<line class="t" x1="106" y1="1230.3" x2="460" y2="1230.3"/>
<polygon class="a" points="106,1230.3 128.5,1226.8 128.5,1233.8"/>
<polygon class="a" points="460,1230.3 437.5,1233.8 437.5,1226.8"/>
<text transform="translate(290.5 1222.7) scale(0.776 1)" text-anchor="middle" font-size="36">300</text>
<!-- isometric view -->
<path class="kwr" d="M977.24 722.36 Q985 717.8 992.79 722.31 L1189.21 835.99 Q1197 840.5 1189.2 844.99 L992.8 958.11 Q985 962.6 977.27 957.99 L786.03 843.81 Q778.3 839.2 786.06 834.64 Z" style="stroke-width:4.5"/>
<path class="kr" style="stroke-width:3.7" d="M978.6 729.6 L982.3 735.6"/>
<path class="kr" style="stroke-width:3.7" d="M993 729.6 L990 735.6"/>
<path class="kr" style="stroke-width:3.7" d="M1162.8 835.6 L1176.3 836.2"/>
<path class="kr" style="stroke-width:3.7" d="M1162.8 840.6 L1176.8 844.5"/>
<path class="kr" style="stroke-width:3.7" d="M794.7 837.4 L809.7 834.7"/>
<path class="kr" style="stroke-width:3.7" d="M796.2 843.6 L807.4 839.9"/>
<path class="kr" style="stroke-width:3.7" d="M981.7 940 L979.2 950.2"/>
<path class="kr" style="stroke-width:3.7" d="M989 940 L992.3 950.2"/>
<path class="kr" style="stroke-width:6.2" d="M1054.6 784.4 L1076 797.2"/>
<path class="kwr" d="M972.8 803 L972.8 817 A13 5.5 0 0 0 998.8 817 L998.8 803 Z"/>
<path class="kr" d="M973.5 805.5 A12.5 5.2 0 0 0 998.1 805.5" style="stroke-width:6"/>
<path class="kr" d="M973 812.5 A12.8 5.2 0 0 0 998.6 812.5" style="stroke-width:2.6"/>
<path class="kwr" d="M970.2 819.5 L970.2 838.6 A15.6 8.4 0 0 0 1001.4 838.6 L1001.4 818.5 L995.3 822.8 L984.8 827 L976.3 822 Z"/>
<path class="kr" d="M973.3 818 A12.8 5.2 0 0 0 998.3 818" style="stroke-width:2.2"/>
<polygon class="kwr" points="710,625.4 744.1,605.5 751.8,610.2 751.8,651.5 717.3,670.2 710,666.7"/>
<polygon class="kwr" points="710,625.4 744.1,605.5 751.8,610.2 717.3,628.9"/>
<polygon class="kwr" points="710,625.4 717.3,628.9 717.3,670.2 710,666.7"/>
<g transform="translate(737.2 641.6) rotate(29.75)">
<path class="kwr" d="M0 -14.3 L301.9 -14.3 A8.6 14.3 0 0 1 301.9 14.3 L0 14.3 A10.8 14.3 0 0 1 0 -14.3 Z"/>
<ellipse class="kwr" cx="301.9" cy="0" rx="8.6" ry="14.3"/>
<path class="kr" d="M269.9 -14.3 A8.6 14.3 0 0 0 269.9 14.3"/>
</g>
<polygon class="kwr" points="752.4,737.8 794.7,714.6 803.2,720.2 803.2,770.8 761.4,792.4 752.4,788.4"/>
<polygon class="kwr" points="752.4,737.8 794.7,714.6 803.2,720.2 761.4,741.8"/>
<polygon class="kwr" points="752.4,737.8 761.4,741.8 761.4,792.4 752.4,788.4"/>
<g transform="translate(781.4 755.8) rotate(30)">
<path class="kwr" d="M0 -8.3 L19.5 -8.3 L19.5 8.3 L0 8.3 A4.8 8.3 0 0 1 0 -8.3 Z"/>
<path class="kr" d="M16.5 -8.3 A4.8 8.3 0 0 0 16.5 8.3"/>
</g>
<polygon class="kwr" points="791.3,773.3 855.4,735.4 869.2,743 869.2,754.4 805.4,791.2 791.3,783.7"/>
<polygon class="kwr" points="791.3,773.3 855.4,735.4 869.2,743 805.4,778.9"/>
<polygon class="kwr" points="791.3,773.3 805.4,778.9 805.4,791.2 791.3,783.7"/>
<polygon class="kwr" points="669.6,787.7 712.1,763 721.5,768.4 721.5,816.9 678.8,841 669.6,836.2"/>
<polygon class="kwr" points="669.6,787.7 712.1,763 721.5,768.4 678.8,792.5"/>
<polygon class="kwr" points="669.6,787.7 678.8,792.5 678.8,841 669.6,836.2"/>
<g transform="translate(698.3 805) rotate(30)">
<path class="kwr" d="M0 -8.3 L19.5 -8.3 L19.5 8.3 L0 8.3 A4.8 8.3 0 0 1 0 -8.3 Z"/>
<path class="kr" d="M16.5 -8.3 A4.8 8.3 0 0 0 16.5 8.3"/>
</g>
<polygon class="kwr" points="718.8,805.5 728.2,799.6 741.4,807 741.4,880.6 731.6,886.3 718.8,879.1"/>
<polygon class="kwr" points="718.8,805.5 728.2,799.6 741.4,807 731.6,812.7"/>
<polygon class="kwr" points="718.8,805.5 731.6,812.7 731.6,886.3 718.8,879.1"/>
<polygon class="kwr" points="585.6,835.9 628.2,811.3 637.8,816.7 637.8,866.9 594.8,890.7 585.6,886.1"/>
<polygon class="kwr" points="585.6,835.9 628.2,811.3 637.8,816.7 594.8,840.5"/>
<polygon class="kwr" points="585.6,835.9 594.8,840.5 594.8,890.7 585.6,886.1"/>
<g transform="translate(614.2 853.6) rotate(30)">
<path class="kwr" d="M0 -8.3 L19.5 -8.3 L19.5 8.3 L0 8.3 A4.8 8.3 0 0 1 0 -8.3 Z"/>
<path class="kr" d="M16.5 -8.3 A4.8 8.3 0 0 0 16.5 8.3"/>
</g>
<polygon class="kwr" points="585.9,887.3 651,851.8 663.8,858.6 663.8,869.5 599.4,907 585.9,899.3"/>
<polygon class="kwr" points="585.9,887.3 651,851.8 663.8,858.6 599.4,894.4"/>
<polygon class="kwr" points="585.9,887.3 599.4,894.4 599.4,907 585.9,899.3"/>
<polygon class="kwr" points="624.1,1007.8 655.7,990.3 663,994.2 663,1030.8 631.4,1048.3 624.1,1044.4"/>
<polygon class="kwr" points="624.1,1007.8 655.7,990.3 663,994.2 631.4,1011.7"/>
<polygon class="kwr" points="624.1,1007.8 631.4,1011.7 631.4,1048.3 624.1,1044.4"/>
<path d="M691 1064 C692 1100 699 1128 705 1152 C709.5 1170 714 1186 708.5 1196 C704 1203.5 694 1203 687 1202.5 C672 1201 661 1190 657 1170 C653.5 1150 662 1110 665.3 1074" fill="none" stroke="#000" stroke-width="19.5"/>
<path d="M691 1064 C692 1100 699 1128 705 1152 C709.5 1170 714 1186 708.5 1196 C704 1203.5 694 1203 687 1202.5 C672 1201 661 1190 657 1170 C653.5 1150 662 1110 665.3 1074" fill="none" stroke="#fff" stroke-width="15.3"/>
<path d="M695.16 1193.96 Q695.61 1202.65 696.58 1211.3 M688.8 1211.33 Q689.45 1202.66 689.75 1193.96 M680.76 1210.26 Q683.45 1201.96 684.72 1193.32" fill="none" stroke="#000" stroke-width="2.5"/>
<path d="M699 1193.16 Q701.17 1201.67 705.58 1209.26 M672.72 1207.41 Q677.79 1200.21 680.35 1191.77" fill="none" stroke="#000" stroke-width="2.75"/>
<path d="M665.52 1202.84 Q672.54 1197.32 676.43 1189.29" fill="none" stroke="#000" stroke-width="3"/>
<path d="M700.74 1191.95 Q706 1199.32 714.38 1202.77 M659.58 1196.92 Q667.88 1193.32 673.04 1185.9" fill="none" stroke="#000" stroke-width="3.25"/>
<path d="M682.44 1068.35 Q691.27 1071.19 699.83 1067.65 M682.79 1075.13 Q691.67 1077.78 700.16 1074.05 M683.28 1081.89 Q692.22 1084.35 700.62 1080.45 M683.92 1088.65 Q692.9 1090.91 701.22 1086.84 M684.69 1095.38 Q693.72 1097.45 701.96 1093.22 M685.61 1102.1 Q694.67 1103.97 702.82 1099.58 M686.65 1108.78 Q695.75 1110.47 703.82 1105.94 M687.82 1115.44 Q696.95 1116.95 704.93 1112.28 M689.1 1122.06 Q698.25 1123.41 706.16 1118.62 M690.49 1128.65 Q699.65 1129.85 707.49 1124.94 M691.96 1135.2 Q701.14 1136.28 708.91 1131.28 M693.49 1141.7 Q702.68 1142.68 710.41 1137.62 M695.08 1148.16 Q704.27 1149.09 711.97 1143.98 M696.68 1154.59 Q705.87 1155.49 713.56 1150.36 M698.28 1160.98 Q707.47 1161.89 715.17 1156.78 M699.79 1167.25 Q708.97 1168.33 716.75 1163.34 M701.09 1173.37 Q710.23 1174.84 718.19 1170.13 M702.02 1179.27 Q711.02 1181.43 719.3 1177.27 M702.33 1184.74 Q710.99 1188.05 719.73 1184.97 M701.82 1189.3 Q709.52 1194.41 718.71 1193.48 M655.03 1190.19 Q663.99 1188.38 670.22 1181.7 M651.72 1183.09 Q660.91 1182.75 667.96 1176.84 M649.42 1175.86 Q658.62 1176.68 666.26 1171.5 M647.96 1168.19 Q656.96 1170.36 665.25 1166.22 M647.49 1160.79 Q656.25 1163.82 664.89 1160.45 M647.56 1153.72 Q656.14 1157.22 664.95 1154.32 M647.93 1146.81 Q656.38 1150.61 665.29 1148.05 M648.51 1140.03 Q656.86 1144.02 665.83 1141.68 M649.21 1133.32 Q657.5 1137.45 666.5 1135.26 M650 1126.66 Q658.24 1130.89 667.27 1128.81 M650.84 1120.06 Q659.06 1124.34 668.1 1122.32 M651.72 1113.49 Q659.92 1117.79 668.96 1115.8 M652.6 1106.94 Q660.8 1111.25 669.84 1109.27 M653.47 1100.42 Q661.68 1104.71 670.72 1102.7 M654.31 1093.92 Q662.54 1098.17 671.58 1096.12 M655.12 1087.44 Q663.38 1091.62 672.39 1089.5 M655.85 1080.97 Q664.16 1085.07 673.15 1082.85 M656.51 1074.53 Q664.87 1078.52 673.84 1076.17" fill="none" stroke="#000" stroke-width="3.5"/>
<polygon class="b" points="654.3,1046.5 677,1058.6 676.6,1062.5 666,1061.5 654.6,1056.5"/>
<path class="kwr" d="M654.8 1055 L676.4 1060 L675 1076.5 L655.8 1076.5 Z" style="stroke-width:2.6"/>
<polygon class="kwr" points="637.1,1016.2 655.7,1005.5 713.7,1037.6 693.4,1047.8"/>
<polygon class="w" points="668,873.8 688.6,861.6 709.6,873.8 709.6,1034.2 692.5,1043.4 668,1031.5"/>
<path class="kr" d="M668 1031.5 L668 873.8 L688.6 861.6 L709.6 873.8 L709.6 1034.2"/>
<path class="kr" d="M709.6 1034.2 L694 1042.6" style="stroke-width:2"/>
<path class="kr" d="M668 873.8 Q670 875 686 884.6 Q688.6 886.3 691.4 884.6 L709.6 873.8"/>
<path class="kr" d="M684.5 864 Q688.6 861 692.7 864"/>
<polygon class="b" points="686.7,893.8 710.5,882.2 710.5,927.3 686.7,940.2" style="stroke:#000;stroke-width:2.5;stroke-linejoin:round"/>
<path d="M691.3 895 L691.3 935.5 M707.2 887 L707.2 926.5" fill="none" stroke="#fff" stroke-width="0.8" stroke-dasharray="2.4 1.4"/>
<polygon class="kwr" points="637.1,1016.2 693.4,1047.8 693.4,1068 637.1,1037.6"/>
<polygon class="kwr" points="693.4,1047.8 713.7,1038 713.7,1059 693.4,1068" style="stroke-width:3"/>
</svg>
</body>
</html>
